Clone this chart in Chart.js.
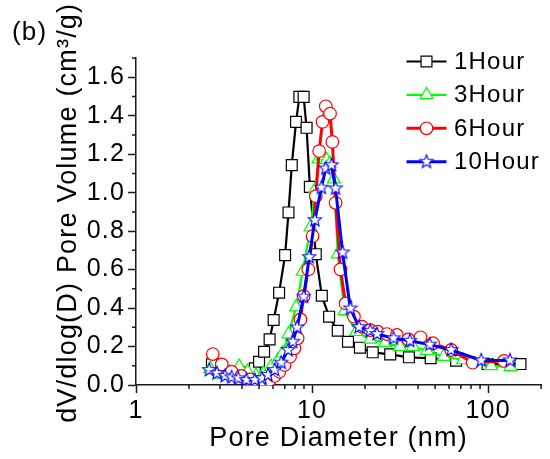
<!DOCTYPE html>
<html><head><meta charset="utf-8">
<script src="https://cdn.jsdelivr.net/npm/chart.js@4/dist/chart.umd.min.js"></script>
<style>html,body{margin:0;padding:0;background:#fff;overflow:hidden}canvas{display:block}</style>
</head><body>
<canvas id="c" width="550" height="459"></canvas>
<script>
// ---------- data ----------
const seriesNames = ['1Hour', '3Hour', '6Hour', '10Hour'];
const diam1 = [2.70, 3.05, 3.45, 3.90, 4.28, 4.73, 5.00, 5.34, 5.74, 6.05, 6.50, 7.03, 7.35, 7.67, 8.11, 8.47, 8.96, 9.31, 9.72, 10.5, 11.36, 12.5, 14.0, 16.0, 18.7, 22.1, 27.8, 35.5, 47.2, 65.8, 99.3, 152.7];
const vol1  = [0.107, 0.080, 0.066, 0.060, 0.066, 0.087, 0.121, 0.173, 0.237, 0.338, 0.480, 0.675, 0.897, 1.143, 1.368, 1.498, 1.498, 1.337, 1.030, 0.680, 0.464, 0.355, 0.282, 0.225, 0.194, 0.170, 0.159, 0.144, 0.139, 0.126, 0.109, 0.109];
const diam3 = [2.64, 3.01, 3.40, 3.85, 4.30, 4.80, 5.30, 5.85, 6.40, 6.80, 7.35, 8.11, 8.84, 9.80, 10.45, 10.9, 11.5, 12.1, 12.6, 13.3, 14.0, 15.3, 17.8, 21.4, 26.0, 31.5, 37.5, 45.0, 56.0, 72.0, 104, 134];
const vol3  = [0.085, 0.055, 0.065, 0.097, 0.070, 0.050, 0.060, 0.095, 0.130, 0.165, 0.265, 0.405, 0.590, 0.820, 1.020, 1.175, 1.190, 1.170, 1.150, 1.070, 0.680, 0.385, 0.277, 0.237, 0.220, 0.200, 0.200, 0.178, 0.148, 0.130, 0.099, 0.094];
const diam6 = [2.73, 3.07, 3.49, 3.96, 4.45, 4.94, 5.39, 5.74, 6.13, 6.52, 6.98, 7.50, 7.94, 8.28, 8.59, 8.96, 9.52, 10.07, 10.5, 10.97, 11.46, 11.96, 12.65, 13.04, 13.6, 14.5, 15.5, 17.3, 19.2, 21.4, 23.6, 26.6, 30.3, 35.2, 41.3, 48.7, 61.7, 81.7, 123];
const vol6  = [0.161, 0.107, 0.069, 0.047, 0.029, 0.018, 0.017, 0.026, 0.047, 0.069, 0.104, 0.147, 0.191, 0.243, 0.341, 0.462, 0.601, 0.774, 0.982, 1.216, 1.368, 1.449, 1.411, 1.264, 0.947, 0.601, 0.424, 0.355, 0.303, 0.285, 0.277, 0.265, 0.260, 0.237, 0.248, 0.217, 0.182, 0.116, 0.125];
const diam10 = [2.61, 2.88, 3.21, 3.49, 3.81, 4.24, 4.73, 5.20, 5.62, 6.13, 6.68, 7.31, 7.77, 8.22, 8.96, 9.64, 10.37, 11.3, 11.96, 12.9, 13.6, 14.9, 16.5, 18.5, 21.4, 23.4, 29.0, 35.9, 46.6, 61.7, 91.4, 133];
const vol10  = [0.078, 0.061, 0.047, 0.040, 0.035, 0.026, 0.026, 0.035, 0.052, 0.078, 0.116, 0.182, 0.225, 0.299, 0.459, 0.665, 0.857, 1.026, 1.126, 1.143, 1.022, 0.689, 0.398, 0.301, 0.282, 0.265, 0.243, 0.230, 0.210, 0.182, 0.128, 0.128];
const xTickValues = [1, 10, 100];
const xMinorValues = [2, 3, 4, 5, 6, 7, 8, 9, 20, 30, 40, 50, 60, 70, 80, 90, 200];
const yTickValues = [0, 0.2, 0.4, 0.6, 0.8, 1.0, 1.2, 1.4, 1.6];
const yMinorValues = [0.1, 0.3, 0.5, 0.7, 0.9, 1.1, 1.3, 1.5, 1.7];

// ---------- styling ----------
const FONT = "'Liberation Sans', Arial, sans-serif";
const AXIS = '#1a1a1a';
function makeStar(color, R, r, lw) {
  const s = 18;
  const c = document.createElement('canvas');
  c.width = s; c.height = s;
  const g = c.getContext('2d');
  g.beginPath();
  for (let i = 0; i < 10; i++) {
    const a = -Math.PI / 2 + i * Math.PI / 5;
    const rr = (i % 2) ? r : R;
    g.lineTo(s / 2 + rr * Math.cos(a), s / 2 + rr * Math.sin(a));
  }
  g.closePath();
  g.fillStyle = '#fff'; g.fill();
  g.strokeStyle = color; g.lineWidth = lw; g.stroke();
  return c;
}
const starImg = makeStar('#0000ff', 7, 3, 1.1);

const pts = (xs, ys) => xs.map((x, i) => ({x: x, y: ys[i]}));
const styles = [
  {color: '#000000', lw: 2.2, ps: 'rect', r: 7.7, order: 4},
  {color: '#00ff00', lw: 2.2, ps: 'triangle', r: 7.5, order: 3},
  {color: '#ff0000', lw: 3, ps: 'circle', r: 6.3, order: 2},
  {color: '#0000ff', lw: 3, ps: starImg, r: 7, order: 1}
];
const series = [pts(diam1, vol1), pts(diam3, vol3), pts(diam6, vol6), pts(diam10, vol10)];

const datasets = series.map((d, i) => ({
  label: seriesNames[i],
  data: d,
  borderColor: styles[i].color,
  borderWidth: styles[i].lw,
  pointStyle: styles[i].ps,
  pointRadius: styles[i].r,
  pointBackgroundColor: '#ffffff',
  pointBorderColor: styles[i].color,
  pointBorderWidth: 1.2,
  tension: 0,
  fill: false,
  order: styles[i].order
}));

const deco = {
  id: 'deco',
  beforeDraw(chart) { chart.ctx.letterSpacing = '1.2px'; },
  afterDraw(chart) {
    const ctx = chart.ctx;
    const xs = chart.scales.x, ys = chart.scales.y;
    const L = chart.chartArea.left, B = chart.chartArea.bottom;
    ctx.save();
    ctx.strokeStyle = AXIS; ctx.lineWidth = 1.5;
    ctx.beginPath();
    yMinorValues.forEach(v => { const p = ys.getPixelForValue(v); ctx.moveTo(L - 4, p); ctx.lineTo(L, p); });
    xMinorValues.forEach(v => { const p = xs.getPixelForValue(v); ctx.moveTo(p, B); ctx.lineTo(p, B + 4); });
    ctx.stroke();
    // panel label
    ctx.fillStyle = '#000';
    ctx.font = '26px ' + FONT;
    ctx.textAlign = 'left'; ctx.textBaseline = 'alphabetic';
    ctx.fillText('(b)', 12, 39.5);
    // legend
    ctx.font = '24px ' + FONT;
    chart.data.datasets.forEach((ds, i) => {
      const y = 61.5 + i * 33.4;
      ctx.strokeStyle = ds.borderColor; ctx.lineWidth = ds.borderWidth;
      ctx.beginPath(); ctx.moveTo(406.5, y); ctx.lineTo(446.5, y); ctx.stroke();
      const cx = 426.5;
      if (ds.pointStyle instanceof HTMLCanvasElement) {
        ctx.drawImage(ds.pointStyle, cx - ds.pointStyle.width / 2, y - ds.pointStyle.height / 2);
      } else {
        ctx.fillStyle = '#fff'; ctx.strokeStyle = ds.borderColor; ctx.lineWidth = 1.2;
        Chart.helpers.drawPoint(ctx, {pointStyle: ds.pointStyle, rotation: 0, radius: ds.pointRadius, borderWidth: 1.2}, cx, y);
      }
      ctx.fillStyle = '#000';
      ctx.textBaseline = 'alphabetic';
      ctx.fillText(ds.label, 454, y + 7.5);
    });
    ctx.restore();
  }
};

new Chart(document.getElementById('c'), {
  type: 'line',
  data: {datasets: datasets},
  plugins: [deco],
  options: {
    responsive: false,
    animation: false,
    devicePixelRatio: 1,
    layout: {padding: {left: 0, right: 3, top: 58, bottom: 0}},
    plugins: {legend: {display: false}, tooltip: {enabled: false}},
    scales: {
      x: {
        type: 'logarithmic', min: 1, max: 200,
        afterBuildTicks: s => { s.ticks = xTickValues.map(v => ({value: v})); },
        afterFit: s => { s.height = 74; },
        grid: {drawOnChartArea: false, drawTicks: true, tickLength: 8, tickWidth: 1.5, tickColor: AXIS},
        border: {display: true, color: AXIS, width: 1.5},
        ticks: {font: {family: FONT, size: 25}, color: '#000', padding: 3, maxRotation: 0, autoSkip: false,
                callback: v => String(v)},
        title: {display: true, text: 'Pore Diameter (nm)', color: '#000', font: {family: FONT, size: 27, lineHeight: 1.2}, padding: {top: 0, bottom: 4}}
      },
      y: {
        min: 0, max: 1.7,
        afterBuildTicks: s => { s.ticks = yTickValues.map(v => ({value: v})); },
        afterFit: s => { s.width = 136; },
        grid: {drawOnChartArea: false, drawTicks: true, tickLength: 8, tickWidth: 1.5, tickColor: AXIS},
        border: {display: true, color: AXIS, width: 1.5},
        ticks: {font: {family: FONT, size: 25}, color: '#000', padding: 3,
                callback: v => Number(v).toFixed(1)},
        title: {display: true, text: '  dV/dlog(D) Pore Volume (cm³/g)', color: '#000', font: {family: FONT, size: 27, lineHeight: 1.2}, padding: {top: 52, bottom: 0}}
      }
    }
  }
});
</script>
</body></html>
